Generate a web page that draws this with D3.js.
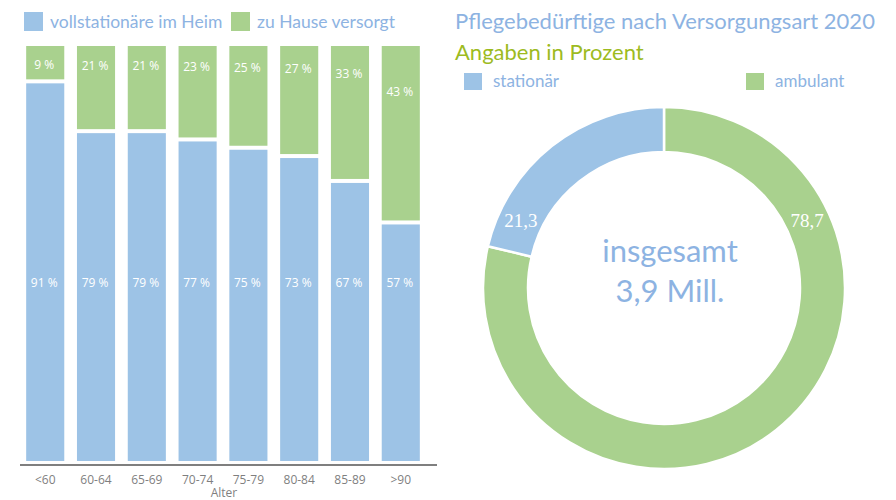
<!DOCTYPE html>
<html>
<head>
<meta charset="utf-8">
<script src="https://cdn.jsdelivr.net/npm/d3@7"></script>
<style>
  body { margin: 0; background: #fff; }
  svg { display: block; }
</style>
</head>
<body>
<div class="chart"></div>
<script>
// data
var ageGroups = ["<60", "60-64", "65-69", "70-74", "75-79", "80-84", "85-89", ">90"];
var stationaer = [91, 79, 79, 77, 75, 73, 67, 57];
var zuHause = [9, 21, 21, 23, 25, 27, 33, 43];
var donutLabels = ["ambulant", "stationär"];
var donutValues = [78.7, 21.3];

var blue = "#9dc3e6";
var green = "#a9d18e";
var textBlue = "#8db3e2";

var svgWidth = 896;
var svgHeight = 500;

var svg = d3.select(".chart")
  .append("svg")
  .attr("width", svgWidth)
  .attr("height", svgHeight);

// ---------- left: stacked bars ----------
var xScale = d3.scaleBand()
  .domain(ageGroups)
  .range([15, 431])
  .paddingInner(0.25)
  .paddingOuter(0.22);

var yScale = d3.scaleLinear()
  .domain([0, 100])
  .range([461, 46]);

var gap = 2;

var barGroup = svg.append("g");

// blue (bottom) segments
barGroup.selectAll(".blue")
  .data(ageGroups)
  .enter()
  .append("rect")
  .attr("x", d => xScale(d))
  .attr("width", xScale.bandwidth())
  .attr("y", (d, i) => yScale(stationaer[i]))
  .attr("height", (d, i) => yScale(0) - yScale(stationaer[i]))
  .attr("fill", blue);

// green (top) segments
barGroup.selectAll(".green")
  .data(ageGroups)
  .enter()
  .append("rect")
  .attr("x", d => xScale(d))
  .attr("width", xScale.bandwidth())
  .attr("y", (d, i) => yScale(stationaer[i] + zuHause[i]))
  .attr("height", (d, i) => yScale(stationaer[i]) - yScale(stationaer[i] + zuHause[i]) - gap * 2)
  .attr("fill", green);

// value labels
barGroup.selectAll(".lblBlue")
  .data(ageGroups)
  .enter()
  .append("text")
  .attr("x", d => xScale(d) + xScale.bandwidth() / 2 - 1)
  .attr("y", yScale(43) + 4)
  .attr("text-anchor", "middle")
  .attr("font-family", "Open Sans, sans-serif")
  .attr("font-size", "12px")
  .attr("fill", "#fff")
  .text((d, i) => stationaer[i] + " %");

// labels sit near the top of the green part, dropping lower as it grows
barGroup.selectAll(".lblGreen")
  .data(ageGroups)
  .enter()
  .append("text")
  .attr("x", d => xScale(d) + xScale.bandwidth() / 2 - 1)
  .attr("y", (d, i) => yScale(100) + 23 + Math.pow((zuHause[i] - 9) / 34, 3) * 27)
  .attr("text-anchor", "middle")
  .attr("font-family", "Open Sans, sans-serif")
  .attr("font-size", "12px")
  .attr("fill", "#fff")
  .text((d, i) => zuHause[i] + " %");

// x axis
var bottomAxis = d3.axisBottom(xScale).tickSize(0).tickPadding(10);
var axisG = svg.append("g")
  .attr("transform", "translate(0, 465)")
  .call(bottomAxis);
axisG.select(".domain").remove();
axisG.selectAll("text")
  .attr("font-family", "Open Sans, sans-serif")
  .attr("font-size", "12px")
  .attr("fill", "#7f7f7f");

svg.append("line")
  .attr("x1", 20).attr("x2", 437)
  .attr("y1", 465).attr("y2", 465)
  .attr("stroke", "#7f7f7f")
  .attr("stroke-width", 2);

svg.append("text")
  .attr("x", 224)
  .attr("y", 497)
  .attr("text-anchor", "middle")
  .attr("font-family", "Open Sans, sans-serif")
  .attr("font-size", "12px")
  .attr("fill", "#7f7f7f")
  .text("Alter");

// left legend
var leftLegend = [
  { label: "vollstationäre im Heim", color: blue, x: 24 },
  { label: "zu Hause versorgt", color: green, x: 231 }
];
var ll = svg.selectAll(".ll")
  .data(leftLegend)
  .enter()
  .append("g");
ll.append("rect")
  .attr("x", d => d.x)
  .attr("y", 12)
  .attr("width", 19)
  .attr("height", 19)
  .attr("fill", d => d.color);
ll.append("text")
  .attr("x", d => d.x + 26)
  .attr("y", 28)
  .attr("font-family", "Lato, sans-serif")
  .attr("font-size", "17.5px")
  .attr("fill", textBlue)
  .text(d => d.label);

// ---------- right: donut ----------
svg.append("text")
  .attr("x", 455)
  .attr("y", 29)
  .attr("font-family", "Lato, sans-serif")
  .attr("font-size", "22px")
  .attr("fill", textBlue)
  .text("Pflegebedürftige nach Versorgungsart 2020");

svg.append("text")
  .attr("x", 455)
  .attr("y", 60)
  .attr("font-family", "Lato, sans-serif")
  .attr("font-size", "22px")
  .attr("fill", "#9dbb1f")
  .text("Angaben in Prozent");

var rightLegend = [
  { label: "stationär", color: blue, x: 464 },
  { label: "ambulant", color: green, x: 746 }
];
var rl = svg.selectAll(".rl")
  .data(rightLegend)
  .enter()
  .append("g");
rl.append("rect")
  .attr("x", d => d.x)
  .attr("y", 73)
  .attr("width", 18)
  .attr("height", 17)
  .attr("fill", d => d.color);
rl.append("text")
  .attr("x", d => d.x + 29)
  .attr("y", 87)
  .attr("font-family", "Lato, sans-serif")
  .attr("font-size", "17px")
  .attr("fill", textBlue)
  .text(d => d.label);

var cx = 664, cy = 288;
var outerR = 181, innerR = 136;

var pie = d3.pie().sort(null);
var arc = d3.arc().innerRadius(innerR).outerRadius(outerR);

var donutG = svg.append("g")
  .attr("transform", `translate(${cx}, ${cy})`);

var arcs = pie(donutValues);

donutG.selectAll("path")
  .data(arcs)
  .enter()
  .append("path")
  .attr("d", arc)
  .attr("fill", (d, i) => i === 0 ? green : blue)
  .attr("stroke", "#fff")
  .attr("stroke-width", 2.5);

// labels in the upper part of the ring, mirrored left / right
donutG.selectAll(".dl")
  .data(arcs)
  .enter()
  .append("text")
  .attr("x", (d, i) => (i === 0 ? 1 : -1) * Math.sin(65 * Math.PI / 180) * 158)
  .attr("y", -Math.cos(65 * Math.PI / 180) * 158 + 6)
  .attr("text-anchor", "middle")
  .attr("font-family", "Liberation Serif, serif")
  .attr("font-size", "19px")
  .attr("fill", "#fff")
  .text(d => String(d.value).replace(".", ","));

donutG.append("text")
  .attr("x", 6)
  .attr("y", -26)
  .attr("text-anchor", "middle")
  .attr("font-family", "Lato, sans-serif")
  .attr("font-size", "31px")
  .attr("fill", textBlue)
  .text("insgesamt");

donutG.append("text")
  .attr("x", 6)
  .attr("y", 14)
  .attr("text-anchor", "middle")
  .attr("font-family", "Lato, sans-serif")
  .attr("font-size", "31px")
  .attr("fill", textBlue)
  .text("3,9 Mill.");
</script>
</body>
</html>
